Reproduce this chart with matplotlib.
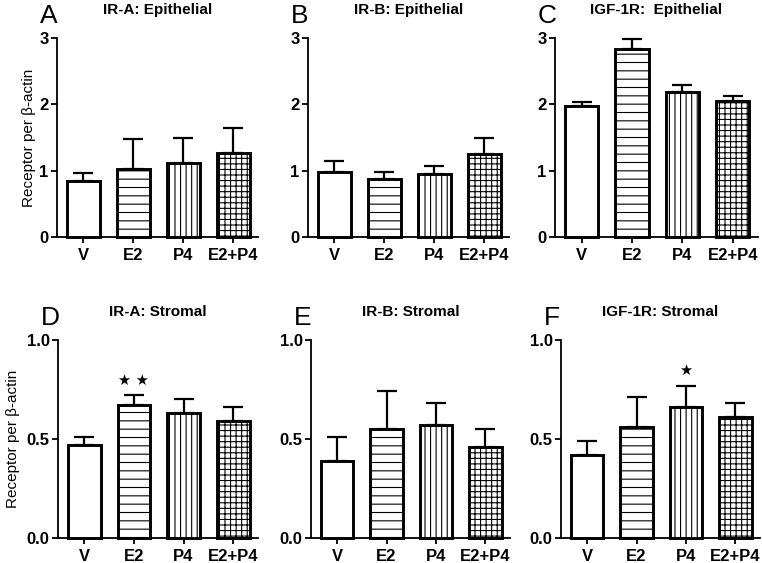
import numpy as np
import matplotlib
matplotlib.use("Agg")
import matplotlib.pyplot as plt
from matplotlib.ticker import FormatStrFormatter

plt.rcParams['font.family'] = ['Liberation Sans', 'DejaVu Sans']
plt.rcParams['hatch.linewidth'] = 0.8

# groups on the x axis
groups = ['V', 'E2', 'P4', 'E2+P4']
hatches = ['', '--', '|||', '+++']

# panel letters and titles
letters = ['A', 'B', 'C', 'D', 'E', 'F']
titles = ['IR-A: Epithelial', 'IR-B: Epithelial', 'IGF-1R:  Epithelial',
          'IR-A: Stromal', 'IR-B: Stromal', 'IGF-1R: Stromal']

# means and SEM
ira_epi = [0.84, 1.02, 1.11, 1.26]
ira_epi_sem = [0.12, 0.46, 0.39, 0.39]
irb_epi = [0.98, 0.87, 0.95, 1.25]
irb_epi_sem = [0.16, 0.11, 0.12, 0.25]
igf_epi = [1.97, 2.84, 2.19, 2.05]
igf_epi_sem = [0.07, 0.15, 0.10, 0.07]
ira_str = [0.47, 0.67, 0.63, 0.59]
ira_str_sem = [0.04, 0.05, 0.07, 0.07]
irb_str = [0.39, 0.55, 0.57, 0.46]
irb_str_sem = [0.12, 0.19, 0.11, 0.09]
igf_str = [0.42, 0.56, 0.66, 0.61]
igf_str_sem = [0.07, 0.15, 0.11, 0.07]

means = [ira_epi, irb_epi, igf_epi, ira_str, irb_str, igf_str]
sems = [ira_epi_sem, irb_epi_sem, igf_epi_sem, ira_str_sem, irb_str_sem, igf_str_sem]

# significance marks: (panel index, group index, y, text)
stars = [(3, 1, 0.795, '★ ★'), (5, 2, 0.845, '★')]

W, H = 762, 563
fig = plt.figure(figsize=(W / 100, H / 100), dpi=100)

# axes boxes in pixels: left, top, right, bottom
boxes = [(57, 38, 258, 237), (308, 38, 509, 237), (555, 38, 758, 237),
         (58, 340, 258, 538), (311, 340, 510, 538), (561, 340, 760, 538)]

x = np.arange(len(groups))
axes = []
for i, (l, t, r, b) in enumerate(boxes):
    ax = fig.add_axes([l / W, 1 - b / H, (r - l) / W, (b - t) / H])
    axes.append(ax)
    m = np.array(means[i])
    s = np.array(sems[i])
    bars = ax.bar(x, m, width=0.66, color='white', edgecolor='black',
                  linewidth=2.1, zorder=3, clip_on=False)
    for bar, h in zip(bars, hatches):
        bar.set_hatch(h)
    ax.errorbar(x, m, yerr=[np.zeros_like(s), s], fmt='none', ecolor='black',
                elinewidth=1.6, capsize=7, capthick=1.6, zorder=2, clip_on=False)

    top_row = i < 3
    ax.set_xlim(-0.53, 3.5)
    if top_row:
        ax.set_ylim(0, 3)
        ax.set_yticks([0, 1, 2, 3])
    else:
        ax.set_ylim(0, 1)
        ax.set_yticks([0, 0.5, 1.0])
        ax.yaxis.set_major_formatter(FormatStrFormatter('%.1f'))
    ax.set_xticks(x)
    ax.set_xticklabels(groups)
    for sp in ['top', 'right']:
        ax.spines[sp].set_visible(False)
    for sp in ['left', 'bottom']:
        ax.spines[sp].set_linewidth(1.3)
    ax.tick_params(axis='both', length=4, width=1.3, labelsize=12, pad=2)
    ax.tick_params(axis='x', pad=4)
    for lab in ax.get_xticklabels() + ax.get_yticklabels():
        lab.set_fontweight('bold')

    hpx = b - t
    ax.text(0.5, 1 + 24 / hpx, titles[i], transform=ax.transAxes, ha='center',
            va='baseline', fontsize=11, fontweight='bold')
    ax.text(-0.085, 1 + 34 / hpx, letters[i], transform=ax.transAxes, ha='left',
            va='top', fontsize=19)

    if i in (0, 3):
        ax.set_ylabel('Receptor per β-actin', fontsize=11)
        ax.yaxis.set_label_coords(-0.105 if top_row else -0.19, 0.5)

for pi, gi, y, txt in stars:
    axes[pi].text(x[gi], y, txt, ha='center', va='center', fontsize=10.5,
                  family=['DejaVu Sans'])

fig.savefig('out.png', dpi=100)
